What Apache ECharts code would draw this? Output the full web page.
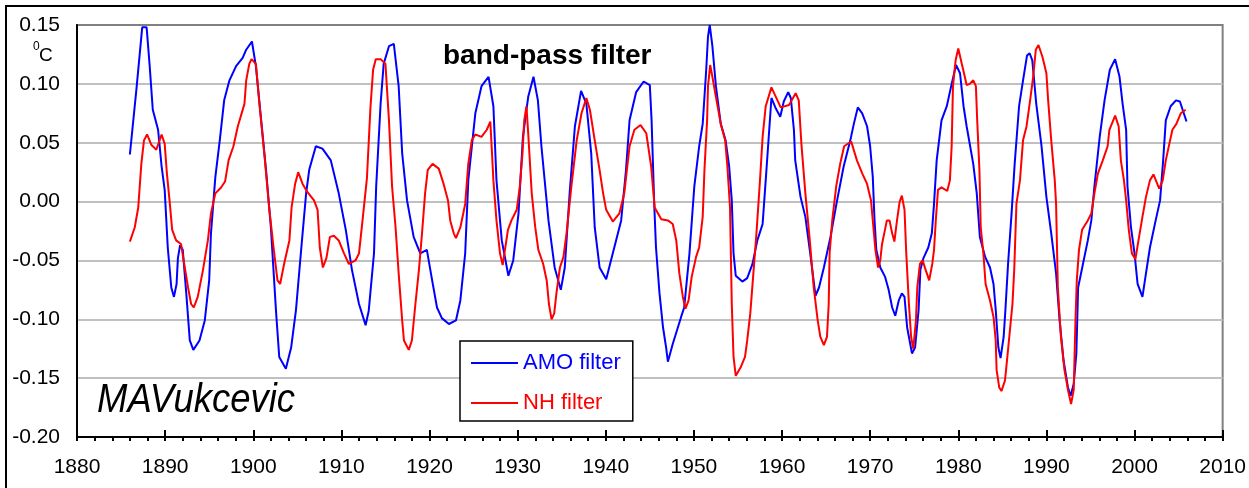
<!DOCTYPE html>
<html>
<head>
<meta charset="utf-8">
<title>band-pass filter</title>
<script src="https://cdn.jsdelivr.net/npm/echarts@6/dist/echarts.min.js"></script>
<style>
  html, body { margin: 0; padding: 0; background: #fff; }
  #main { width: 1249px; height: 488px; }
</style>
</head>
<body>
<div id="main"></div>
<script>
// AMO filter (blue), year / deg C
var amoYears = [1886.0, 1886.75, 1887.4, 1887.9, 1888.25, 1888.6, 1889.2, 1889.6, 1889.95, 1890.3,
  1890.7, 1891.0, 1891.3, 1891.45, 1891.7, 1892.0, 1892.4, 1892.8, 1893.2, 1893.9,
  1894.5, 1895.0, 1895.2, 1895.7, 1896.2, 1896.7, 1897.3, 1898.05, 1898.8, 1899.2,
  1899.85, 1900.3, 1900.9, 1901.45, 1902.0, 1902.6, 1902.95, 1903.7, 1904.3, 1904.85,
  1905.4, 1906.0, 1906.35, 1907.1, 1907.85, 1908.8, 1909.7, 1910.5, 1911.2, 1912.0,
  1912.75, 1913.1, 1913.7, 1913.95, 1914.45, 1914.8, 1915.4, 1915.95, 1916.5, 1916.9,
  1917.45, 1918.2, 1918.95, 1919.7, 1920.3, 1920.85, 1921.4, 1922.2, 1923.0, 1923.5,
  1924.05, 1924.4, 1925.2, 1925.9, 1926.7, 1927.25, 1927.6, 1928.2, 1928.95, 1929.5,
  1930.1, 1930.6, 1931.2, 1931.8, 1932.3, 1932.7, 1933.5, 1934.2, 1934.9, 1935.35,
  1935.9, 1936.5, 1937.2, 1937.8, 1938.35, 1938.75, 1939.3, 1940.05, 1940.8, 1941.75,
  1942.3, 1942.7, 1943.45, 1944.3, 1945.0, 1945.2, 1945.5, 1945.7, 1946.1, 1946.5,
  1946.85, 1947.05, 1947.6, 1948.55, 1948.9, 1949.5, 1950.05, 1950.6, 1951.0, 1951.4,
  1951.6, 1951.8, 1952.1, 1952.5, 1953.05, 1953.6, 1954.0, 1954.3, 1954.5, 1954.75,
  1955.5, 1956.05, 1956.65, 1957.2, 1957.8, 1958.15, 1958.55, 1958.8, 1959.3, 1959.8,
  1960.2, 1960.7, 1961.0, 1961.35, 1961.5, 1962.1, 1962.65, 1963.2, 1963.8, 1964.2,
  1964.75, 1965.5, 1966.25, 1967.0, 1967.75, 1968.15, 1968.6, 1969.1, 1969.65, 1970.0,
  1970.3, 1970.5, 1970.7, 1971.15, 1971.7, 1972.1, 1972.5, 1972.85, 1973.25, 1973.6,
  1973.9, 1974.2, 1974.55, 1974.75, 1975.1, 1975.5, 1975.7, 1976.05, 1976.6, 1977.0,
  1977.25, 1977.55, 1978.1, 1978.7, 1979.25, 1979.75, 1980.2, 1980.6, 1980.95, 1981.7,
  1982.1, 1982.45, 1983.05, 1983.6, 1984.0, 1984.25, 1984.55, 1984.8, 1985.15, 1985.35,
  1985.65, 1986.05, 1986.4, 1986.9, 1987.35, 1987.8, 1988.1, 1988.4, 1988.85, 1989.45,
  1990.0, 1990.55, 1991.1, 1991.5, 1991.95, 1992.45, 1992.75, 1993.1, 1993.4, 1993.6,
  1994.15, 1994.7, 1995.1, 1995.45, 1996.05, 1996.6, 1997.2, 1997.8, 1998.3, 1998.65,
  1999.05, 1999.2, 1999.6, 2000.0, 2000.35, 2000.9, 2001.3, 2001.75, 2002.4, 2002.9,
  2003.25, 2003.55, 2004.1, 2004.7, 2005.15, 2005.9];
var amoValues = [0.040, 0.096, 0.148, 0.148, 0.115, 0.078, 0.061, 0.030, 0.010, -0.039,
  -0.073, -0.081, -0.070, -0.048, -0.037, -0.041, -0.078, -0.118, -0.126, -0.118,
  -0.101, -0.067, -0.027, 0.021, 0.052, 0.086, 0.103, 0.115, 0.122, 0.129,
  0.136, 0.115, 0.069, 0.027, -0.022, -0.095, -0.132, -0.142, -0.124, -0.092,
  -0.044, 0.007, 0.027, 0.047, 0.045, 0.035, 0.007, -0.024, -0.058, -0.087,
  -0.105, -0.093, -0.044, 0.013, 0.083, 0.117, 0.132, 0.134, 0.098, 0.041,
  0.001, -0.030, -0.044, -0.041, -0.067, -0.090, -0.099, -0.104, -0.101, -0.084,
  -0.044, 0.018, 0.075, 0.098, 0.106, 0.081, 0.018, -0.033, -0.063, -0.050,
  -0.010, 0.055, 0.089, 0.106, 0.086, 0.047, -0.016, -0.056, -0.075, -0.056,
  0.007, 0.064, 0.094, 0.083, 0.041, -0.022, -0.056, -0.066, -0.044, -0.016,
  0.027, 0.069, 0.093, 0.102, 0.099, 0.069, -0.002, -0.039, -0.078, -0.107,
  -0.124, -0.136, -0.121, -0.098, -0.090, -0.044, 0.013, 0.047, 0.066, 0.112,
  0.140, 0.150, 0.132, 0.098, 0.066, 0.052, 0.030, 0.001, -0.044, -0.063,
  -0.068, -0.065, -0.053, -0.033, -0.019, 0.018, 0.061, 0.088, 0.079, 0.072,
  0.085, 0.093, 0.088, 0.061, 0.035, 0.004, -0.013, -0.044, -0.080, -0.073,
  -0.056, -0.030, 0.001, 0.030, 0.052, 0.066, 0.080, 0.075, 0.064, 0.047,
  0.021, -0.016, -0.041, -0.056, -0.064, -0.075, -0.090, -0.097, -0.084, -0.078,
  -0.081, -0.107, -0.121, -0.129, -0.124, -0.092, -0.058, -0.048, -0.039, -0.027,
  -0.002, 0.035, 0.069, 0.081, 0.100, 0.116, 0.109, 0.081, 0.064, 0.032,
  0.007, -0.030, -0.047, -0.056, -0.070, -0.092, -0.124, -0.133, -0.115, -0.092,
  -0.053, -0.010, 0.032, 0.081, 0.103, 0.124, 0.126, 0.120, 0.083, 0.047,
  0.004, -0.027, -0.061, -0.101, -0.135, -0.158, -0.165, -0.155, -0.129, -0.073,
  -0.053, -0.033, -0.016, 0.013, 0.055, 0.086, 0.112, 0.121, 0.106, 0.083,
  0.061, 0.013, -0.022, -0.044, -0.070, -0.081, -0.061, -0.039, -0.016, 0.001,
  0.035, 0.069, 0.081, 0.086, 0.085, 0.068];

// NH filter (red)
var nhYears = [1886.0, 1886.55, 1886.95, 1887.3, 1887.6, 1887.95, 1888.45, 1889.0, 1889.6, 1889.95,
  1890.2, 1890.5, 1890.8, 1891.25, 1891.8, 1892.1, 1892.6, 1892.95, 1893.25, 1893.7,
  1894.3, 1894.85, 1895.2, 1895.7, 1896.35, 1896.8, 1897.2, 1897.75, 1898.25, 1899.0,
  1899.2, 1899.55, 1899.8, 1900.3, 1900.7, 1901.25, 1901.8, 1902.3, 1902.75, 1903.05,
  1903.5, 1904.1, 1904.35, 1904.75, 1905.1, 1905.6, 1906.15, 1906.9, 1907.3, 1907.55,
  1907.9, 1908.3, 1908.7, 1909.15, 1909.7, 1910.3, 1910.85, 1911.6, 1912.0, 1912.4,
  1912.9, 1913.3, 1913.6, 1913.9, 1914.45, 1915.0, 1915.4, 1915.75, 1916.15, 1916.5,
  1916.9, 1917.1, 1917.65, 1918.0, 1918.4, 1918.8, 1919.15, 1919.5, 1919.8, 1920.35,
  1921.05, 1921.6, 1922.1, 1922.35, 1922.75, 1923.0, 1923.5, 1924.05, 1924.4, 1924.8,
  1925.2, 1925.9, 1926.5, 1926.9, 1927.05, 1927.25, 1927.6, 1928.0, 1928.3, 1928.6,
  1928.9, 1929.3, 1929.9, 1930.25, 1930.55, 1930.75, 1931.0, 1931.2, 1931.6, 1932.0,
  1932.35, 1932.9, 1933.3, 1933.55, 1933.85, 1934.15, 1934.4, 1934.8, 1935.2, 1935.55,
  1936.1, 1936.7, 1937.25, 1937.8, 1938.2, 1938.75, 1939.3, 1939.7, 1940.05, 1940.8,
  1941.55, 1942.1, 1942.7, 1943.25, 1943.95, 1944.6, 1945.15, 1945.55, 1946.3, 1947.05,
  1947.6, 1948.0, 1948.35, 1948.75, 1949.05, 1949.4, 1949.75, 1950.25, 1950.6, 1951.0,
  1951.2, 1951.5, 1951.6, 1951.85, 1952.1, 1952.5, 1953.05, 1953.55, 1953.8, 1954.1,
  1954.3, 1954.5, 1954.75, 1955.3, 1955.8, 1956.05, 1956.4, 1956.75, 1957.1, 1957.5,
  1957.8, 1958.15, 1958.8, 1959.3, 1959.85, 1960.8, 1961.55, 1961.9, 1962.2, 1962.65,
  1963.15, 1963.6, 1964.05, 1964.35, 1964.75, 1965.1, 1965.3, 1965.4, 1965.7, 1966.15,
  1966.6, 1967.05, 1967.85, 1968.5, 1969.1, 1969.65, 1970.1, 1970.3, 1970.6, 1970.9,
  1971.15, 1971.35, 1971.6, 1971.9, 1972.2, 1972.5, 1972.75, 1973.05, 1973.35, 1973.6,
  1973.9, 1974.1, 1974.4, 1974.65, 1974.9, 1975.2, 1975.35, 1975.65, 1975.95, 1976.3,
  1976.7, 1977.05, 1977.25, 1977.45, 1977.7, 1978.1, 1978.75, 1979.05, 1979.25, 1979.4,
  1979.7, 1980.0, 1980.4, 1980.65, 1980.95, 1981.3, 1981.7, 1982.0, 1982.15, 1982.4,
  1982.55, 1982.85, 1983.1, 1983.6, 1984.0, 1984.25, 1984.35, 1984.65, 1984.9, 1985.3,
  1985.45, 1985.75, 1986.15, 1986.35, 1986.6, 1987.0, 1987.35, 1987.75, 1988.1, 1988.5,
  1988.8, 1989.1, 1989.55, 1990.0, 1990.2, 1990.55, 1990.95, 1991.1, 1991.3, 1991.65,
  1992.05, 1992.45, 1992.8, 1993.1, 1993.3, 1993.45, 1993.7, 1994.05, 1994.7, 1995.1,
  1995.45, 1995.85, 1996.4, 1996.95, 1997.15, 1997.8, 1998.2, 1998.45, 1998.8, 1999.05,
  1999.35, 1999.7, 2000.1, 2000.45, 2000.9, 2001.3, 2001.75, 2002.15, 2002.8, 2003.2,
  2003.55, 2003.95, 2004.3, 2004.75, 2005.25, 2005.8];
var nhValues = [-0.034, -0.022, -0.005, 0.032, 0.052, 0.057, 0.048, 0.044, 0.057, 0.049,
  0.024, 0.001, -0.024, -0.033, -0.036, -0.050, -0.073, -0.087, -0.090, -0.081,
  -0.058, -0.033, -0.010, 0.007, 0.012, 0.017, 0.035, 0.047, 0.064, 0.083,
  0.103, 0.117, 0.121, 0.117, 0.083, 0.041, -0.005, -0.039, -0.067, -0.070,
  -0.053, -0.033, -0.005, 0.015, 0.025, 0.015, 0.008, 0.001, -0.007, -0.039,
  -0.056, -0.048, -0.030, -0.029, -0.033, -0.044, -0.053, -0.050, -0.044, -0.016,
  0.020, 0.080, 0.112, 0.121, 0.121, 0.117, 0.069, 0.013, -0.022, -0.061,
  -0.101, -0.118, -0.126, -0.118, -0.087, -0.058, -0.027, 0.007, 0.027, 0.032,
  0.028, 0.015, 0.001, -0.016, -0.027, -0.031, -0.022, -0.002, 0.032, 0.052,
  0.057, 0.055, 0.061, 0.068, 0.047, 0.018, -0.016, -0.044, -0.054, -0.039,
  -0.024, -0.016, -0.007, 0.013, 0.041, 0.069, 0.081, 0.058, 0.007, -0.022,
  -0.041, -0.053, -0.067, -0.087, -0.100, -0.095, -0.078, -0.056, -0.047, -0.027,
  0.013, 0.052, 0.075, 0.088, 0.078, 0.052, 0.027, 0.007, -0.007, -0.017,
  -0.010, 0.007, 0.047, 0.061, 0.065, 0.058, 0.030, -0.005, -0.015, -0.016,
  -0.019, -0.033, -0.061, -0.081, -0.091, -0.084, -0.064, -0.047, -0.039, -0.013,
  0.027, 0.069, 0.098, 0.116, 0.106, 0.089, 0.066, 0.052, 0.030, -0.005,
  -0.087, -0.132, -0.148, -0.141, -0.132, -0.118, -0.095, -0.061, -0.027, 0.018,
  0.055, 0.081, 0.097, 0.089, 0.080, 0.082, 0.092, 0.086, 0.049, 0.007,
  -0.033, -0.073, -0.101, -0.115, -0.122, -0.115, -0.087, -0.044, -0.016, 0.013,
  0.032, 0.047, 0.051, 0.035, 0.024, 0.015, 0.001, -0.016, -0.041, -0.056,
  -0.050, -0.036, -0.027, -0.016, -0.016, -0.027, -0.034, -0.016, 0.000, 0.005,
  -0.007, -0.044, -0.087, -0.115, -0.125, -0.101, -0.073, -0.053, -0.050, -0.058,
  -0.067, -0.053, -0.041, -0.016, 0.010, 0.012, 0.009, 0.018, 0.047, 0.098,
  0.120, 0.130, 0.117, 0.109, 0.099, 0.100, 0.103, 0.098, 0.069, 0.027,
  -0.022, -0.044, -0.070, -0.084, -0.098, -0.118, -0.143, -0.158, -0.161, -0.152,
  -0.141, -0.118, -0.087, -0.058, -0.002, 0.018, 0.052, 0.064, 0.083, 0.106,
  0.129, 0.133, 0.123, 0.109, 0.086, 0.052, 0.018, -0.002, -0.073, -0.115,
  -0.143, -0.160, -0.172, -0.160, -0.101, -0.067, -0.041, -0.024, -0.016, -0.010,
  0.007, 0.024, 0.035, 0.047, 0.061, 0.073, 0.064, 0.035, 0.018, 0.001,
  -0.024, -0.044, -0.049, -0.033, -0.013, 0.004, 0.018, 0.023, 0.011, 0.018,
  0.035, 0.049, 0.061, 0.066, 0.075, 0.078];

var seriesNames = ['AMO filter', 'NH filter'];
var seriesColors = ['#0000ff', '#ff0000'];

function pairs(xs, ys) {
  var out = [];
  for (var i = 0; i < xs.length; i++) out.push([xs[i], ys[i]]);
  return out;
}

var font = '"Liberation Sans", Arial, sans-serif';
var chart = echarts.init(document.getElementById('main'));

chart.setOption({
  animation: false,
  backgroundColor: '#fff',
  grid: {
    left: 77, right: 22, top: 25, bottom: 51,
    show: true,
    borderColor: '#808080',
    borderWidth: 2
  },
  legend: {
    orient: 'vertical',
    left: 460, top: 341,
    padding: [10, 12, 6, 10],
    itemGap: 16,
    itemWidth: 47, itemHeight: 24,
    backgroundColor: '#fff',
    borderColor: '#000',
    borderWidth: 1.5,
    borderRadius: 0,
    itemStyle: { opacity: 0 },   // only the line sample, no dot
    textStyle: { fontFamily: font, fontSize: 22, lineHeight: 24 },
    data: [
      { name: seriesNames[0], textStyle: { color: seriesColors[0] } },
      { name: seriesNames[1], textStyle: { color: seriesColors[1] } }
    ]
  },
  xAxis: [
    {
      type: 'value', position: 'bottom',
      min: 1880, max: 2010, interval: 10,
      axisLine: { show: true, onZero: false, lineStyle: { color: '#000', width: 2 } },
      axisTick: { show: true, inside: false, length: 4, lineStyle: { color: '#000', width: 2 } },
      minorTick: { show: true, splitNumber: 5, length: 4, lineStyle: { color: '#000', width: 2 } },
      splitLine: { show: false },
      axisLabel: {
        color: '#000', fontFamily: font, fontSize: 21, margin: 20,
        formatter: function (v) { return String(v); }
      }
    },
    {
      // major ticks reach up into the plot as well
      type: 'value', position: 'bottom',
      min: 1880, max: 2010, interval: 10,
      axisLine: { show: false, onZero: false },
      axisTick: { show: true, inside: true, length: 7, lineStyle: { color: '#000', width: 2 } },
      splitLine: { show: false },
      axisLabel: { show: false }
    }
  ],
  yAxis: {
    type: 'value',
    min: -0.2, max: 0.15, interval: 0.05,
    axisLine: { show: true, onZero: false, lineStyle: { color: '#000', width: 2 } },
    axisTick: { show: false },
    splitLine: {
      show: true, showMinLine: false, showMaxLine: false,
      lineStyle: { color: '#c0c0c0', width: 2 }
    },
    axisLabel: {
      color: '#000', fontFamily: font, fontSize: 21, margin: 17,
      formatter: function (v) { return v.toFixed(2); }
    }
  },
  series: [
    {
      name: seriesNames[0], type: 'line', symbol: 'none',
      data: pairs(amoYears, amoValues),
      lineStyle: { color: seriesColors[0], width: 2 },
      itemStyle: { color: seriesColors[0] }
    },
    {
      name: seriesNames[1], type: 'line', symbol: 'none',
      data: pairs(nhYears, nhValues),
      lineStyle: { color: seriesColors[1], width: 2 },
      itemStyle: { color: seriesColors[1] }
    }
  ],
  graphic: [
    {
      // outer frame of the picture
      type: 'rect', silent: true,
      shape: { x: 6, y: 6, width: 1300, height: 600 },
      style: { fill: null, stroke: '#000', lineWidth: 2 }
    },
    {
      type: 'text', x: 33, y: 41,
      style: { text: '0', fontFamily: font, fontSize: 12, fill: '#000' }
    },
    {
      type: 'text', x: 39, y: 46,
      style: { text: 'C', fontFamily: font, fontSize: 19, fill: '#000' }
    },
    {
      type: 'text', x: 443, y: 56,
      style: {
        text: 'band-pass filter', fontFamily: font, fontSize: 28, fontWeight: 'bold',
        fill: '#000', verticalAlign: 'middle'
      }
    },
    {
      type: 'text', x: 97, y: 401, scaleX: 0.89,
      style: {
        text: 'MAVukcevic', fontFamily: font, fontSize: 41, fontStyle: 'italic',
        fill: '#000', verticalAlign: 'middle'
      }
    }
  ]
});
</script>
</body>
</html>
